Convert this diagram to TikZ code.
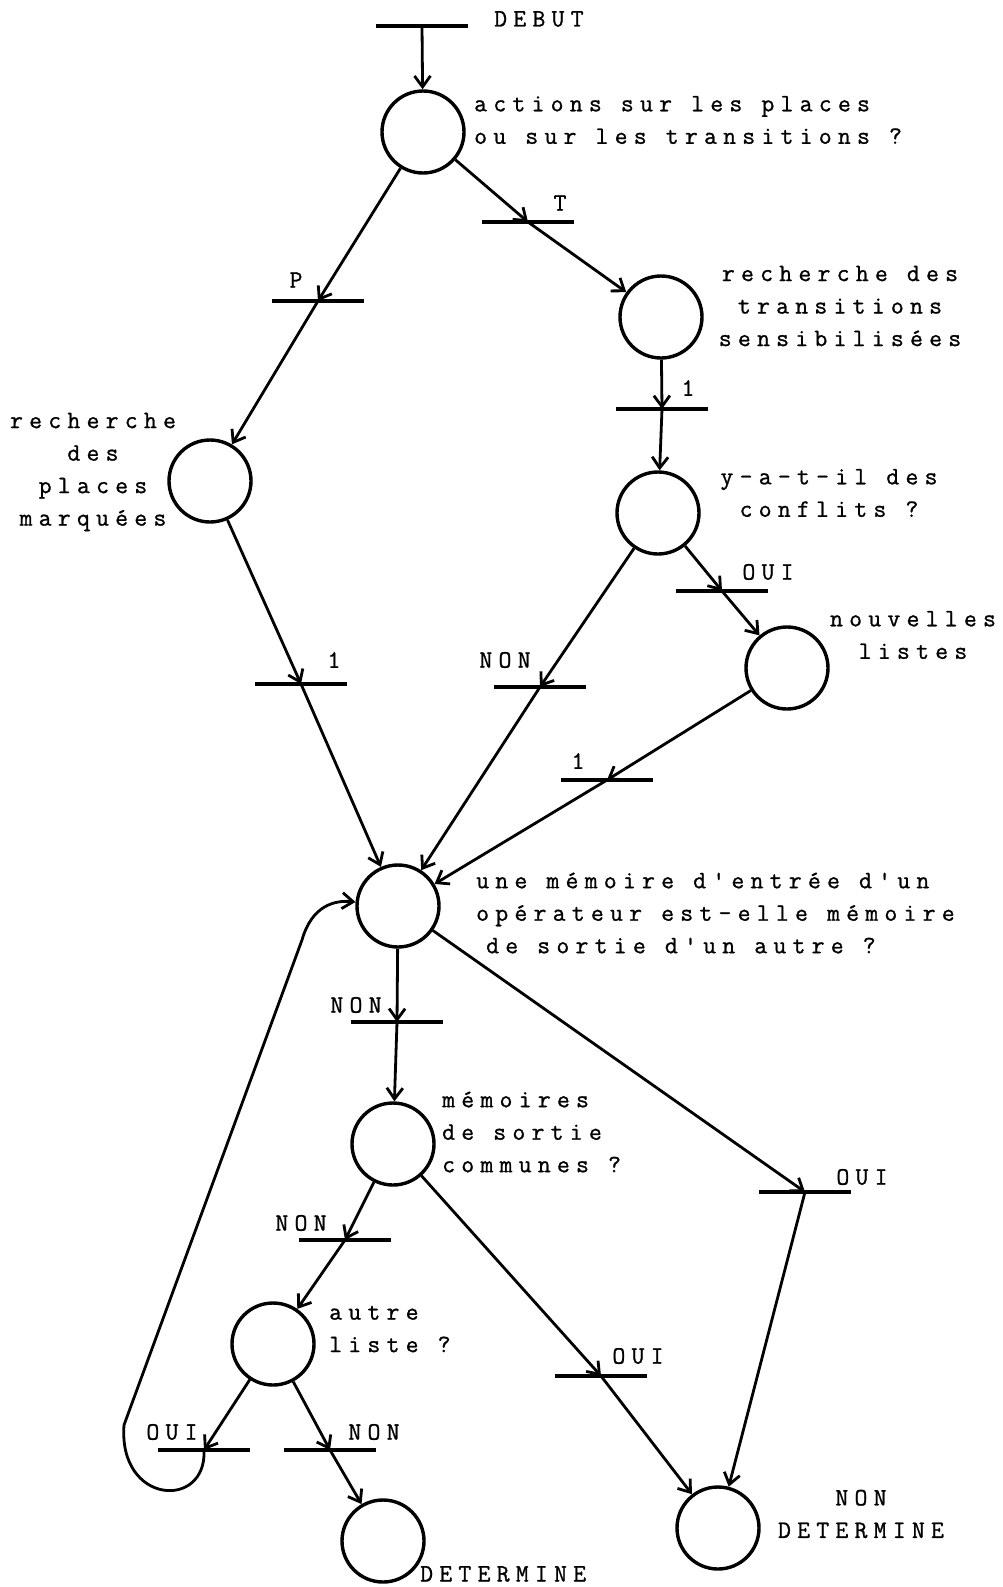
\documentclass[tikz,border=0pt]{standalone}
\usepackage{fontspec}
\setmonofont{Latin Modern Mono}[LetterSpace=25,FakeBold=1]
\usepackage{tikz}
\usetikzlibrary{arrows.meta}
\newcommand{\tw}{\ttfamily\fontsize{25pt}{32.5pt}\selectfont}

\begin{document}
\begin{tikzpicture}[x=1pt,y=-1pt,place/.style={circle,draw,line width=3.4pt,minimum size=82pt,inner sep=0pt},bar/.style={fill=black,minimum width=92pt,minimum height=4.2pt,inner sep=0pt},arc/.style={-{Straight Barb[length=11pt,width=16pt,line width=2.8pt]},line width=2.8pt},txt/.style={font=\tw,inner sep=0pt},lbl/.style={font=\tw,inner sep=0pt}]
\useasboundingbox (0,0) rectangle (1003,1587);
% places
\node[place] (actions) at (423,132) {};
\node[place] (places) at (210,481) {};
\node[place] (sensib) at (661,317) {};
\node[place] (conflits) at (658,513) {};
\node[place] (listes) at (787,668) {};
\node[place] (memoire) at (398,906) {};
\node[place] (communes) at (393,1144) {};
\node[place] (autre) at (273,1344) {};
\node[place] (determ) at (383,1541) {};
\node[place] (nondeterm) at (718,1528) {};
% transitions
\node[bar] (tdebut) at (422,26) {};
\node[bar] (tP) at (318,301) {};
\node[bar] (tT) at (528,222) {};
\node[bar] (tunA) at (662,409) {};
\node[bar] (touiA) at (722,591) {};
\node[bar] (tnonA) at (540,687) {};
\node[bar] (tunB) at (301,684) {};
\node[bar] (tunC) at (607,780) {};
\node[bar] (tnonB) at (397,1022) {};
\node[bar] (touiB) at (805,1192) {};
\node[bar] (touiC) at (601,1376) {};
\node[bar] (tnonC) at (345,1240) {};
\node[bar] (touiD) at (204,1450) {};
\node[bar] (tnonD) at (330,1450) {};
% textes
\node[txt,anchor=west] (debut) at (494,19) {DEBUT};
\node[txt,anchor=west,align=left] (qactions) at (474,120) {actions sur les places\\ou sur les transitions ?};
\node[txt,align=center] (qplaces) at (93,472) {recherche\\des\\places\\marquées};
\node[txt,align=center] (qsensib) at (840,306) {recherche des\\transitions\\sensibilisées};
\node[txt,align=center] (qconflits) at (829,493) {y-a-t-il des\\conflits ?};
\node[txt,align=center] (qlistes) at (913,635) {nouvelles\\listes};
\node[txt,anchor=west,align=left] (qmemoire) at (476,913) {une mémoire d'entrée d'un\\opérateur est-elle mémoire\\\hspace{10pt}de sortie d'un autre ?};
\node[txt,anchor=west,align=left] (qcommunes) at (442,1132) {mémoires\\de sortie\\communes ?};
\node[txt,anchor=west,align=left] (qautre) at (329,1329) {autre\\liste ?};
\node[txt,align=center] (qnondeterm) at (861,1514) {NON\\DETERMINE};
\node[txt,anchor=west] (qdeterm) at (420,1574) {DETERMINE};
% etiquettes
\node[lbl] (lP) at (296,280) {P};
\node[lbl] (lT) at (560,203) {T};
\node[lbl] (lunA) at (688,388) {1};
\node[lbl] (louiA) at (768,572) {OUI};
\node[lbl] (lnonA) at (505,660) {NON};
\node[lbl] (lunB) at (334,660) {1};
\node[lbl] (lunC) at (578,761) {1};
\node[lbl] (lnonB) at (356,1005) {NON};
\node[lbl] (louiB) at (862,1177) {OUI};
\node[lbl] (louiC) at (638,1356) {OUI};
\node[lbl] (lnonC) at (301,1223) {NON};
\node[lbl] (louiD) at (172,1432) {OUI};
\node[lbl] (lnonD) at (374,1432) {NON};
% arcs
\draw[arc] (tdebut.center)--(actions);
\draw[arc] (actions)--(tP.center);\draw[arc] (tP.center)--(places);\draw[arc] (actions)--(tT.center);\draw[arc] (tT.center)--(sensib);
\draw[arc] (sensib)--(tunA.center);\draw[arc] (tunA.center)--(conflits);\draw[arc] (conflits)--(touiA.center);\draw[arc] (touiA.center)--(listes);
\draw[arc] (conflits)--(tnonA.center);\draw[arc] (tnonA.center)--(memoire);\draw[arc] (places)--(tunB.center);\draw[arc] (tunB.center)--(memoire);
\draw[arc] (listes)--(tunC.center);\draw[arc] (tunC.center)--(memoire);
\draw[arc] (memoire)--(tnonB.center);\draw[arc] (tnonB.center)--(communes);\draw[arc] (memoire)--(touiB.center);\draw[arc] (touiB.center)--(nondeterm);
\draw[arc] (communes)--(touiC.center);\draw[arc] (touiC.center)--(nondeterm);\draw[arc] (communes)--(tnonC.center);\draw[arc] (tnonC.center)--(autre);
\draw[arc] (autre)--(touiD.center);\draw[arc] (autre)--(tnonD.center);\draw[arc] (tnonD.center)--(determ);
% boucle
\draw[arc] (touiD.center) .. controls (207,1510) and (118,1505) .. (124,1425) -- (302,940) .. controls (312,905) and (335,900) .. (memoire);
\end{tikzpicture}
\end{document}
